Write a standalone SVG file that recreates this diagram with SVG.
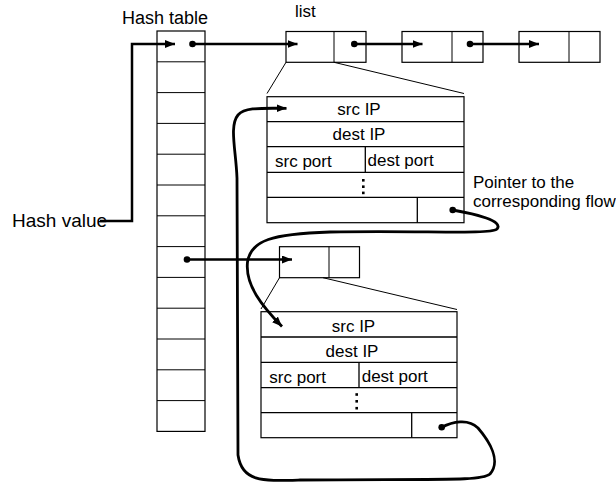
<svg xmlns="http://www.w3.org/2000/svg" width="616" height="483" viewBox="0 0 616 483">
<style>
text{font-family:"Liberation Sans",Arial,sans-serif;font-size:17px;fill:#000}
.box{fill:#fff;stroke:#000;stroke-width:1.2}
.thin{fill:none;stroke:#000;stroke-width:1}
.conn{fill:none;stroke:#000;stroke-width:2.5}
.curve{fill:none;stroke:#000;stroke-width:2.8}
.mid{text-anchor:middle}
</style>
<defs>
<marker id="ah" markerUnits="userSpaceOnUse" markerWidth="12" markerHeight="10" refX="10" refY="4" orient="auto">
<path d="M0,0 L10,4 L0,8 Z" fill="#000"/>
</marker>
</defs>

<g id="labels">
<text x="122" y="24" style="font-size:18px">Hash table</text>
<text x="295" y="17">list</text>
<text x="12" y="227" style="font-size:19px">Hash value</text>
<text x="473" y="188">Pointer to the</text>
<text x="473" y="207">corresponding flow</text>
</g>

<g id="hash-table">
<rect class="box" x="157" y="31" width="48" height="400.4"/>
<path class="thin" d="M157,61.8H205M157,92.6H205M157,123.4H205M157,154.2H205M157,185H205M157,215.8H205M157,246.6H205M157,277.4H205M157,308.2H205M157,339H205M157,369.8H205M157,400.6H205"/>
</g>

<g id="list-node-1">
<rect class="box" x="286" y="31.5" width="80" height="30.8"/>
<line class="thin" x1="334" y1="31.5" x2="334" y2="62.3"/>
</g>
<g id="list-node-2">
<rect class="box" x="402" y="31.5" width="81" height="30.8"/>
<line class="thin" x1="452" y1="31.5" x2="452" y2="62.3"/>
</g>
<g id="list-node-3">
<rect class="box" x="519" y="31.5" width="81" height="30.8"/>
<line class="thin" x1="569" y1="31.5" x2="569" y2="62.3"/>
</g>
<g id="list2-node-1">
<rect class="box" x="279.5" y="246.7" width="80" height="31"/>
<line class="thin" x1="329" y1="246.7" x2="329" y2="277.7"/>
</g>

<g id="expansion-lines">
<line class="thin" x1="286" y1="62.3" x2="267" y2="93.5"/>
<line class="thin" x1="334" y1="62.3" x2="464" y2="93.5"/>
<line class="thin" x1="279.5" y1="277.7" x2="261" y2="309"/>
<line class="thin" x1="323" y1="277.7" x2="457" y2="309.5"/>
</g>

<g id="flow-record-1">
<rect class="box" x="267" y="96.7" width="197" height="126"/>
<path class="thin" d="M267,121.7H464M267,146.7H464M267,172.3H464M267,197.3H464M365.3,146.7V172.3M417.3,197.3V222.7" style="stroke-width:1.3"/>
<text class="mid" x="359" y="115">src IP</text>
<text class="mid" x="359" y="140">dest IP</text>
<text x="275" y="166.5">src port</text>
<text x="367.5" y="165.5">dest port</text>
<rect x="362" y="179" width="2.6" height="2.6"/>
<rect x="362" y="185.4" width="2.6" height="2.6"/>
<rect x="362" y="191.6" width="2.6" height="2.6"/>
</g>

<g id="flow-record-2">
<rect class="box" x="261" y="311.7" width="196" height="126"/>
<path class="thin" d="M261,337H457M261,362.3H457M261,387.7H457M261,412.7H457M359,362.3V387.7M411.7,412.7V437.7" style="stroke-width:1.3"/>
<text class="mid" x="353.5" y="331.5">src IP</text>
<text class="mid" x="352" y="356.5">dest IP</text>
<text x="269.3" y="382.5">src port</text>
<text x="361.7" y="381.5">dest port</text>
<rect x="355.4" y="393.2" width="2.6" height="2.6"/>
<rect x="355.4" y="400" width="2.6" height="2.6"/>
<rect x="355.4" y="406.9" width="2.6" height="2.6"/>
</g>

<g id="connectors">
<path class="conn" d="M100,221H132V44H175" marker-end="url(#ah)"/>
<circle cx="192.5" cy="44" r="3.3"/>
<path class="conn" d="M192.5,44H297.5" marker-end="url(#ah)"/>
<circle cx="354.3" cy="44" r="3.3"/>
<path class="conn" d="M354.3,44H422.5" marker-end="url(#ah)"/>
<circle cx="470" cy="44" r="3.3"/>
<path class="conn" d="M470,44H539" marker-end="url(#ah)"/>
<circle cx="187" cy="259.5" r="3.3"/>
<path class="conn" d="M187,259.5H292" marker-end="url(#ah)"/>
<circle cx="452.7" cy="210" r="3.3"/>
<path class="curve" d="M452.7,210C476,214 504,221 497,229C490,235 420,230 330,232C272,234 251,240 247.5,262C245,285 262,306 282,326.5" marker-end="url(#ah)"/>
<circle cx="441.7" cy="427.3" r="3.3"/>
<path class="curve" d="M441.7,427.3C452,422 468,418 478,428C490,442 501,461 490,474C482,481 450,479 300,480C262,481 242,482 238,455L237,178C236,150 229,126 238,115C245,107 262,108.3 286.5,108.3" marker-end="url(#ah)"/>
</g>
</svg>
